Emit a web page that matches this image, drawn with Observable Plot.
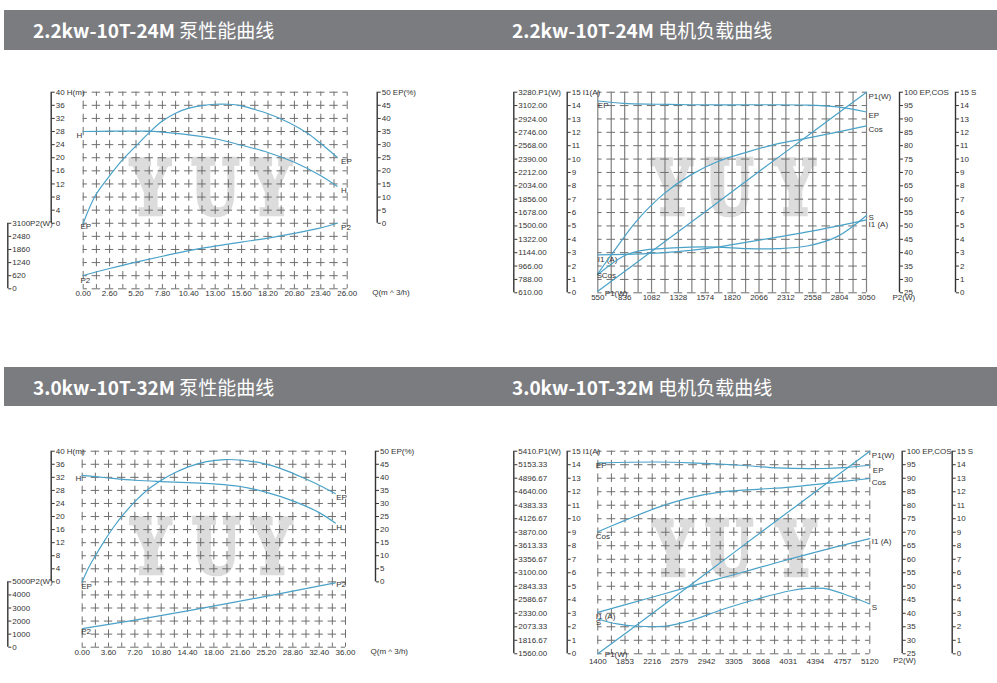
<!DOCTYPE html>
<html lang="zh">
<head>
<meta charset="utf-8">
<script src="https://cdn.jsdelivr.net/npm/d3@7"></script>
<script src="https://cdn.jsdelivr.net/npm/@observablehq/plot@0.6"></script>
<style>
  html,body{margin:0;padding:0;background:#fff;}
  #page{position:relative;width:997px;height:683px;overflow:hidden;background:#fff;}
  .bar{position:absolute;left:4px;width:993px;background:#7b7c80;}
  .title{position:absolute;color:#fff;font-family:"Noto Sans CJK SC","Noto Sans",sans-serif;font-size:19px;line-height:40px;white-space:nowrap;}
  .title b{font-weight:600;}
  .layer{position:absolute;}
  .layer svg{display:block;}
</style>
</head>
<body>
<div id="page">
  <div class="bar" style="top:10px;height:40px"></div>
  <div class="bar" style="top:367px;height:39px"></div>
</div>
<script>
// ---------------- titles ----------------
const titleModels = ["2.2kw-10T-24M", "2.2kw-10T-24M", "3.0kw-10T-32M", "3.0kw-10T-32M"];
const titleNames = ["泵性能曲线", "电机负载曲线", "泵性能曲线", "电机负载曲线"];

// ---------------- pump 1 (2.2kw) ----------------
const p1XTicks = [0, 2.6, 5.2, 7.8, 10.4, 13, 15.6, 18.2, 20.8, 23.4, 26];
const p1HTicks = [0, 4, 8, 12, 16, 20, 24, 28, 32, 36, 40];
const p1EPTicks = [0, 5, 10, 15, 20, 25, 30, 35, 40, 45, 50];
const p1P2Ticks = [0, 620, 1240, 1860, 2480, 3100];
const p1HQ = [0, 2.6, 5.2, 6.5, 7.8, 10.4, 13, 15.6, 18.2, 20.8, 23.4, 25];
const p1H  = [28.0, 28.1, 28.1, 28.1, 27.8, 27.0, 25.8, 23.8, 21.6, 18.6, 14.5, 11.3];
const p1EPQ = [0, 1.2, 2.5, 3.8, 5.2, 6.5, 7.8, 9.1, 10.4, 11.7, 13, 14.3, 15.6, 16.9, 18.2, 19.5, 20.8, 22.1, 23.4, 25];
const p1EP  = [0, 10.6, 17.6, 23.9, 29.5, 34.6, 39.0, 42.0, 43.9, 44.9, 45.4, 45.4, 44.8, 43.4, 41.8, 39.8, 37.3, 34.3, 30.4, 25.2];
const p1P2Q = [0, 2.6, 5.2, 7.8, 10.4, 13, 15.6, 18.2, 20.8, 23.4, 25];
const p1P2  = [630, 960, 1260, 1540, 1810, 2020, 2210, 2400, 2620, 2880, 3100];

// ---------------- pump 2 (3.0kw) ----------------
const p2XTicks = [0, 3.6, 7.2, 10.8, 14.4, 18, 21.6, 25.2, 28.8, 32.4, 36];
const p2HTicks = [0, 4, 8, 12, 16, 20, 24, 28, 32, 36, 40];
const p2EPTicks = [0, 5, 10, 15, 20, 25, 30, 35, 40, 45, 50];
const p2P2Ticks = [0, 1000, 2000, 3000, 4000, 5000];
const p2HQ = [0, 3.6, 7.2, 10.8, 14.4, 18, 21.6, 25.2, 28.8, 32.4, 34.6];
const p2H  = [32.6, 31.8, 31.1, 30.7, 30.4, 30.0, 29.2, 27.4, 24.8, 21.2, 18.0];
const p2EPQ = [0, 0.8, 1.8, 3.0, 4.3, 5.7, 7.3, 9.3, 11.8, 14.5, 17, 19.5, 22, 24.4, 27, 29.8, 32.4, 34.6];
const p2EP  = [0, 5, 10, 15.5, 21, 26, 31, 36, 40.5, 44, 46, 46.8, 46.5, 45.5, 43.5, 40.3, 37, 33.8];
const p2P2Q = [0, 7.2, 14.4, 21.6, 28.8, 34.6];
const p2P2  = [1415, 2070, 2780, 3520, 4290, 4920];

// ---------------- motor 1 (2.2kw) ----------------
const m1XTicks  = [590, 836, 1082, 1328, 1574, 1820, 2066, 2312, 2558, 2804, 3050];
const m1XLabels = ["550", "836", "1082", "1328", "1574", "1820", "2066", "2312", "2558", "2804", "3050"];
const m1P1Ticks = [610, 788, 966, 1144, 1322, 1500, 1678, 1856, 2034, 2212, 2390, 2568, 2746, 2924, 3102, 3280];
const mITicks   = [0, 1, 2, 3, 4, 5, 6, 7, 8, 9, 10, 11, 12, 13, 14, 15];
const mECTicks  = [25, 30, 35, 40, 45, 50, 55, 60, 65, 70, 75, 80, 85, 90, 95, 100];
const mSTicks   = [0, 1, 2, 3, 4, 5, 6, 7, 8, 9, 10, 11, 12, 13, 14, 15];
const m1EPx = [590, 828, 1133, 1438, 1957, 2507, 2781, 3050];
const m1EP  = [96.7, 95.8, 95.5, 95.3, 95.3, 95.2, 94.5, 92.6];
const m1Cosx = [590, 721, 950, 1194, 1438, 1683, 1957, 2232, 2507, 2781, 3050];
const m1Cos  = [32.1, 39.6, 52.1, 62.0, 69.0, 74.0, 77.6, 80.7, 82.8, 85.1, 87.4];
const m1P1x = [590, 1082, 1574, 2066, 2558, 3050];
const m1P1  = [630, 1160, 1690, 2225, 2750, 3280];
const m1I1x = [590, 828, 1133, 1438, 1683, 1957, 2232, 2507, 2781, 3050];
const m1I1  = [2.84, 2.87, 2.97, 3.17, 3.42, 3.79, 4.16, 4.55, 4.99, 5.45];
const m1Sx = [590, 828, 981, 1133, 1438, 1683, 1957, 2232, 2507, 2781, 3050];
const m1S  = [1.37, 2.75, 3.15, 3.29, 3.42, 3.42, 3.3, 3.3, 3.5, 4.2, 5.78];

// ---------------- motor 2 (3.0kw) ----------------
const m2XTicks  = [1490, 1853, 2216, 2579, 2942, 3305, 3668, 4031, 4394, 4757, 5120];
const m2XLabels = ["1400", "1853", "2216", "2579", "2942", "3305", "3668", "4031", "4394", "4757", "5120"];
const m2P1Ticks = [1560, 1816.67, 2073.33, 2330, 2586.67, 2843.33, 3100, 3356.67, 3613.33, 3870, 4126.67, 4383.33, 4640, 4896.67, 5153.33, 5410];
const m2EPx = [1490, 2282, 2727, 3394, 3884, 4506, 4773, 5120];
const m2EP  = [95.7, 96.0, 95.7, 94.8, 93.8, 93.6, 93.9, 94.8];
const m2Cosx = [1490, 1837, 2282, 2727, 3172, 3617, 4062, 4506, 5120];
const m2Cos  = [70.2, 74.2, 79.1, 82.8, 85.0, 85.9, 86.7, 88.0, 89.9];
const m2P1x = [1490, 2216, 2942, 3668, 4394, 5120];
const m2P1  = [1560, 2325, 3095, 3870, 4640, 5410];
const m2I1x = [1490, 2095, 2700, 3305, 3910, 4515, 5120];
const m2I1  = [3.07, 4.0, 4.95, 5.85, 6.8, 7.7, 8.53];
const m2Sx = [1490, 1748, 2015, 2371, 2727, 3172, 3617, 4062, 4284, 4506, 4773, 5120];
const m2S  = [2.58, 2.21, 2.04, 2.04, 2.46, 3.32, 4.06, 4.67, 4.84, 4.84, 4.43, 3.69];

// ---------------- styling ----------------
const FONT = "'Liberation Sans Narrow','Liberation Sans',Arial,sans-serif";
const CURVE = "#4aa2c8";
const AXIS = "#333333";
const GRID = "#6e6e6e";
const WM = "#dcdcdc";
const page = document.getElementById("page");

// titles
const titlePos = [[33, 10], [512, 10], [33, 367], [512, 367]];
titleModels.forEach((m, i) => {
  const t = document.createElement("div");
  t.className = "title";
  t.style.left = titlePos[i][0] + "px";
  t.style.top = titlePos[i][1] + "px";
  t.innerHTML = `<b>${m}</b> ${titleNames[i]}`;
  page.appendChild(t);
});

function mk(p, yDomain, marks) {
  const svg = Plot.plot({
    width: p.w, height: p.h,
    marginLeft: p.ml, marginRight: p.mr, marginTop: p.mt, marginBottom: p.mb,
    x: {domain: p.x, axis: null},
    y: {domain: yDomain, axis: null},
    style: {background: "transparent", overflow: "visible", fontFamily: FONT, fontSize: "8px", color: AXIS},
    marks
  });
  svg.querySelectorAll(`g[fill="${WM}"] text`).forEach(t => {
    t.setAttribute("transform", (t.getAttribute("transform") || "") + " scale(0.74,1)");
  });
  const div = document.createElement("div");
  div.className = "layer";
  Object.assign(div.style, {left: p.left + "px", top: p.top + "px", width: p.w + "px", height: p.h + "px"});
  div.appendChild(svg);
  page.appendChild(div);
}

function grid(p, xs, ys, vDash) {
  const fw = p.w - p.ml - p.mr, fh = p.h - p.mt - p.mb;
  const sy = fh / 15, sx = fw / 20;
  return [
    Plot.ruleX(xs, vDash
      ? {stroke: GRID, strokeWidth: 1, strokeDasharray: `${0.64 * sy},${0.36 * sy}`, strokeDashoffset: 0.32 * sy}
      : {stroke: "#808080", strokeWidth: 1.2}),
    Plot.ruleY(ys, {stroke: GRID, strokeWidth: 1, strokeDasharray: `${0.64 * sx},${0.36 * sx}`, strokeDashoffset: 0.32 * sx})
  ];
}

function watermark(dxs, dy) {
  return ["Y", "U", "Y"].map((ch, i) => Plot.text([ch], {
    frameAnchor: "middle", text: d => d, dx: dxs[i], dy,
    fontSize: 74, fontWeight: "bold", fontFamily: "DejaVu Serif", fill: WM,
    stroke: WM, strokeWidth: 4.5, strokeLinejoin: "miter"
  }));
}

function yAxis(p, ticks, dx, fmt) {
  const lo = ticks[0], hi = ticks[ticks.length - 1];
  return [
    Plot.ruleX([p.x[1]], {y1: () => lo, y2: () => hi, dx, stroke: AXIS, strokeWidth: 1.4}),
    Plot.axisY(ticks, {anchor: "right", dx, tickSize: 3, tickPadding: 1.5, tickFormat: fmt, color: AXIS, fontSize: 8, label: null})
  ];
}

function xAxis(ticks, fmt, pad) {
  return Plot.axisX(ticks, {tickSize: 0, tickPadding: pad, tickFormat: fmt, color: AXIS, fontSize: 8, label: null});
}

function note(txt, dx, dy) {
  return Plot.text([txt], {frameAnchor: "bottom-right", text: d => d, dx, dy, textAnchor: "start", fontSize: 8, fill: AXIS});
}

function curve(xs, ys) {
  return Plot.line(xs.map((x, i) => ({x, y: ys[i]})), {x: "x", y: "y", stroke: CURVE, strokeWidth: 1.2, curve: "catmull-rom"});
}

function tag(xs, ys, i, label, dx, dy, anchor = "start") {
  return Plot.text([{x: xs.at(i), y: ys.at(i)}], {x: "x", y: "y", text: () => label, dx, dy, textAnchor: anchor, fontSize: 8, fill: AXIS});
}

const plain = d => String(d);

// ================= pump panel 1 =================
const PA = {left: 0, top: 70, w: 480, h: 240, ml: 82.7, mr: 133.3, mt: 21.7, mb: 21.7, x: [0, 26]};
mk(PA, [-20, 40], [
  ...watermark([-65, 0, 56], 0),
  ...grid(PA, d3.range(0, 21).map(i => i * 1.3), d3.range(-20, 41, 4), true),
  xAxis(p1XTicks, d => d.toFixed(2), 1.7),
  note("Q(m ^ 3/h)", 25, 5.7),
  ...yAxis(PA, p1HTicks, -296, d => d === 40 ? "40 H(m)" : plain(d)),
  curve(p1HQ, p1H),
  tag(p1HQ, p1H, 0, "H", -1, 4, "end"),
  tag(p1HQ, p1H, -1, "H", 4, 4)
]);
mk(PA, [-25, 50], [
  ...yAxis(PA, p1EPTicks, 30, d => d === 50 ? "50 EP(%)" : plain(d)),
  curve(p1EPQ, p1EP),
  tag(p1EPQ, p1EP, 0, "EP", -2.7, 3),
  tag(p1EPQ, p1EP, -1, "EP", 4, 4)
]);
mk(PA, [0, p1P2Ticks.at(-1) * 3], [
  ...yAxis(PA, p1P2Ticks, -339.4, d => d === 3100 ? "3100P2(W)" : plain(d)),
  curve(p1P2Q, p1P2),
  tag(p1P2Q, p1P2, 0, "P2", -2.7, 5),
  tag(p1P2Q, p1P2, -1, "P2", 4, 4)
]);

// ================= pump panel 2 =================
const PB = {left: 0, top: 430, w: 480, h: 240, ml: 81.7, mr: 135, mt: 20.7, mb: 23.3, x: [0, 36]};
mk(PB, [-20, 40], [
  ...watermark([-63, 2, 58], 0),
  ...grid(PB, d3.range(0, 21).map(i => i * 1.8), d3.range(-20, 41, 4), true),
  xAxis(p2XTicks, d => d.toFixed(2), 2.5),
  note("Q(m ^ 3/h)", 25, 7),
  ...yAxis(PB, p2HTicks, -294.3, d => d === 40 ? "40 H(m)" : plain(d)),
  curve(p2HQ, p2H),
  tag(p2HQ, p2H, 0, "H", -1, 3, "end"),
  tag(p2HQ, p2H, -1, "H", 1, 4)
]);
mk(PB, [-25, 50], [
  ...yAxis(PB, p2EPTicks, 30, d => d === 50 ? "50 EP(%)" : plain(d)),
  curve(p2EPQ, p2EP),
  tag(p2EPQ, p2EP, 0, "EP", -1, 5),
  tag(p2EPQ, p2EP, -1, "EP", 1, 4)
]);
mk(PB, [0, p2P2Ticks.at(-1) * 3], [
  ...yAxis(PB, p2P2Ticks, -337.7, d => d === 5000 ? "5000P2(W)" : plain(d)),
  curve(p2P2Q, p2P2),
  tag(p2P2Q, p2P2, 0, "P2", -1, 3),
  tag(p2P2Q, p2P2, -1, "P2", 1, 2)
]);

// ================= motor panel 1 =================
const MA = {left: 490, top: 70, w: 507, h: 240, ml: 107.3, mr: 131, mt: 21.7, mb: 17.7, x: [590, 3050]};
mk(MA, [0, 15], [
  ...watermark([-60, -3, 63], -2),
  ...grid(MA, d3.range(0, 21).map(i => 590 + i * 123), d3.range(0, 16), false),
  xAxis(m1XTicks, d => m1XLabels[m1XTicks.indexOf(d)], 2),
  note("P2(W)", 26, 7),
  ...yAxis(MA, mITicks, -299.3, d => d === 15 ? "15 I1(A)" : plain(d)),
  curve(m1I1x, m1I1),
  tag(m1I1x, m1I1, 0, "I1 (A)", 0, 5),
  tag(m1I1x, m1I1, -1, "I1 (A)", 2, 5)
]);
mk(MA, [610, 3280], [
  ...yAxis(MA, m1P1Ticks, -352.7, d => d === 3280 ? "3280.P1(W)" : d.toFixed(2)),
  curve(m1P1x, m1P1),
  tag(m1P1x, m1P1, 0, "P1(W)", 7, 2),
  tag(m1P1x, m1P1, -1, "P1(W)", 2, 4)
]);
mk(MA, [25, 100], [
  ...yAxis(MA, mECTicks, 33, d => d === 100 ? "100 EP,COS" : plain(d)),
  curve(m1EPx, m1EP),
  curve(m1Cosx, m1Cos),
  tag(m1EPx, m1EP, 0, "EP", 0, 4),
  tag(m1EPx, m1EP, -1, "EP", 2, 3),
  tag(m1Cosx, m1Cos, 0, "Cos", 4, 2),
  tag(m1Cosx, m1Cos, -1, "Cos", 2, 4)
]);
mk(MA, [0, 15], [
  ...yAxis(MA, mSTicks, 89, d => d === 15 ? "15 S" : plain(d)),
  curve(m1Sx, m1S),
  tag(m1Sx, m1S, 0, "S", -1, 1),
  tag(m1Sx, m1S, -1, "S", 2, 2)
]);

// ================= motor panel 2 =================
const MB = {left: 490, top: 430, w: 507, h: 240, ml: 107.3, mr: 127.7, mt: 20.7, mb: 16.7, x: [1490, 5120]};
mk(MB, [0, 15], [
  ...watermark([-61, -5, 62], -1),
  ...grid(MB, d3.range(0, 21).map(i => 1490 + i * 181.5), d3.range(0, 16), true),
  xAxis(m2XTicks, d => m2XLabels[m2XTicks.indexOf(d)], 5),
  note("P2(W)", 23.4, 9),
  ...yAxis(MB, mITicks, -302.6, d => d === 15 ? "15 I1(A)" : plain(d)),
  curve(m2I1x, m2I1),
  tag(m2I1x, m2I1, 0, "I1 (A)", -2, 4),
  tag(m2I1x, m2I1, -1, "I1 (A)", 2, 3)
]);
mk(MB, [1560, 5410], [
  ...yAxis(MB, m2P1Ticks, -356, d => d === 5410 ? "5410.P1(W)" : d.toFixed(2)),
  curve(m2P1x, m2P1),
  tag(m2P1x, m2P1, 0, "P1(W)", 7, 1),
  tag(m2P1x, m2P1, -1, "P1(W)", 2, 4)
]);
mk(MB, [25, 100], [
  ...yAxis(MB, mECTicks, 32.4, d => d === 100 ? "100 EP,COS" : plain(d)),
  curve(m2EPx, m2EP),
  curve(m2Cosx, m2Cos),
  tag(m2EPx, m2EP, 0, "EP", -2, 3),
  tag(m2EPx, m2EP, -1, "EP", 3, 5),
  tag(m2Cosx, m2Cos, 0, "Cos", -2, 5),
  tag(m2Cosx, m2Cos, -1, "Cos", 2, 4)
]);
mk(MB, [0, 15], [
  ...yAxis(MB, mSTicks, 82.4, d => d === 15 ? "15 S" : plain(d)),
  curve(m2Sx, m2S),
  tag(m2Sx, m2S, 0, "S", -2, 3),
  tag(m2Sx, m2S, -1, "S", 2, 3)
]);
</script>
</body>
</html>
